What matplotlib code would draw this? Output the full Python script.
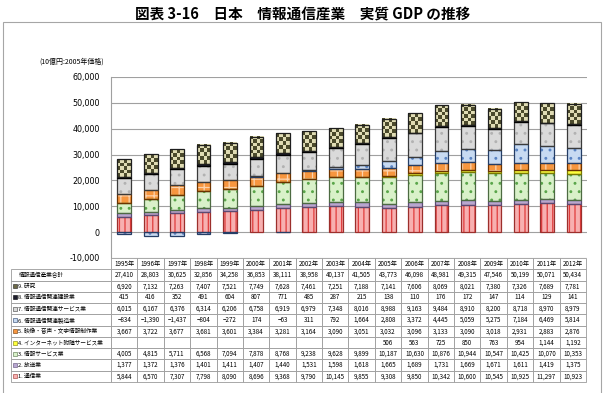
import matplotlib
matplotlib.use("Agg")
import matplotlib.pyplot as plt
from matplotlib.patches import Rectangle
import numpy as np

plt.rcParams['font.family'] = ['Noto Sans CJK JP', 'DejaVu Sans']
plt.rcParams['hatch.linewidth'] = 0.9

years = [str(y) for y in range(1995, 2013)]
year_labels = [y + "年" for y in years]

total = [27410, 28803, 30625, 32856, 34258, 36853, 38111, 38958, 40137,
         41505, 43773, 46098, 48981, 49315, 47546, 50199, 50071, 50434]

# series, bottom of the stack first
names = ["1. 通信業", "2. 放送業", "3. 情報サービス業", "4. インターネット附随サービス業",
         "5. 映像・音声・文字情報制作業", "6. 情報通信関連製造業",
         "7. 情報通信関連サービス業", "8. 情報通信関連建設業", "9. 研究"]
s1 = [5844, 6570, 7307, 7798, 8090, 8696, 9368, 9790, 10145, 9855, 9308, 9850,
      10342, 10600, 10545, 10925, 11297, 10923]
s2 = [1377, 1372, 1376, 1401, 1411, 1407, 1440, 1531, 1598, 1618, 1665, 1689,
      1731, 1669, 1671, 1611, 1419, 1375]
s3 = [4005, 4815, 5711, 6568, 7094, 7878, 8768, 9238, 9628, 9899, 10187, 10630,
      10876, 10944, 10547, 10425, 10070, 10353]
s4 = [None] * 10 + [506, 563, 725, 850, 763, 954, 1144, 1192]
s5 = [3667, 3722, 3677, 3681, 3601, 3384, 3281, 3164, 3090, 3051, 3032, 3096,
      3133, 3090, 3018, 2931, 2883, 2876]
s6 = [-834, -1390, -1437, -804, -272, 174, -63, 311, 792, 1664, 2808, 3372,
      4445, 5059, 5275, 7184, 6469, 5814]
s7 = [6015, 6167, 6376, 6314, 6206, 6758, 6919, 6979, 7348, 8016, 8988, 9163,
      9484, 8910, 8200, 8718, 8970, 8979]
s8 = [415, 416, 352, 491, 604, 807, 771, 485, 287, 215, 138, 110, 176, 172,
      147, 114, 129, 141]
s9 = [6920, 7132, 7263, 7407, 7521, 7749, 7628, 7461, 7251, 7188, 7141, 7606,
      8069, 8021, 7380, 7326, 7689, 7781]
series = [s1, s2, s3, s4, s5, s6, s7, s8, s9]

# face, hatch colour, hatch, edge
styles = [
    ("#f7b0b0", "#e03c3c", "|||", "#9c2f2c"),
    ("#b8a7d0", None, "", "#5b4a73"),
    ("#d9f1c9", "#5aa64a", "..", "#4d6b42"),
    ("#ffff3c", None, "", "#7a7a00"),
    ("#f7963f", "#fcd3ad", "++", "#6b3300"),
    ("#c7daf2", "#5a84c4", "..", "#243d66"),
    ("#dadada", "#b2b2b2", "..", "#3a3a3a"),
    ("#1c1c2c", None, "", "#000000"),
    (None, None, "", "#1e1e1e"),
]

fig = plt.figure(figsize=(6.06, 3.93), dpi=100)
fig.text(0.5, 0.962, "図表 3-16　日本　情報通信産業　実質 GDP の推移",
         ha="center", va="center", fontsize=10.5, fontweight="bold")
fig.patches.append(Rectangle((3 / 606, -0.01), 598 / 606, 1 - 22 / 393 + 0.01,
                             transform=fig.transFigure, fill=False,
                             edgecolor="#a6a6a6", linewidth=0.8))
fig.text(39 / 606, 1 - 62 / 393, "(10億円:2005年価格)", fontsize=5,
         va="center", ha="left")

ax = fig.add_axes([111 / 606, 1 - 258 / 393, 476 / 606, 181 / 393])
x = np.arange(len(years))
w = 0.52
pos = np.zeros(len(years))
neg = np.zeros(len(years))
for vals, (face, hcol, hatch, edge) in zip(series, styles):
    v = np.array([0 if a is None else a for a in vals], dtype=float)
    bottom = np.where(v >= 0, pos, neg)
    if face is not None:
        ax.bar(x, v, w, bottom=bottom, color=face, edgecolor=hcol or face,
               hatch=hatch, linewidth=0, zorder=3)
    else:
        # checkerboard pattern
        for xi, b, h in zip(x, bottom, v):
            rows = max(2, int(round(abs(h) / 1400)))
            chk = (np.add.outer(np.arange(rows), np.arange(4)) % 2)
            ax.imshow(chk, cmap=matplotlib.colors.ListedColormap(["#4b4a2c", "#e0dcb4"]),
                      extent=[xi - w / 2, xi + w / 2, b, b + h], aspect="auto",
                      interpolation="nearest", zorder=3)
    ax.bar(x, v, w, bottom=bottom, fill=False, edgecolor=edge, linewidth=0.9,
           zorder=4)
    pos = np.where(v >= 0, pos + v, pos)
    neg = np.where(v < 0, neg + v, neg)

ax.set_xlim(-0.5, len(years) - 0.5)
ax.set_ylim(-10000, 60000)
ax.set_yticks(range(-10000, 60001, 10000))
ax.set_yticklabels([f"{t:,}" for t in range(-10000, 60001, 10000)],
                   fontsize=5.8, family="DejaVu Sans")
ax.tick_params(axis="y", length=0, pad=8)
ax.set_xticks([])
ax.grid(axis="y", color="#a0a0a0", linewidth=0.8, zorder=0)
for s in ["top", "right", "bottom"]:
    ax.spines[s].set_visible(False)
ax.spines["left"].set_color("#a0a0a0")

# data table
def fmt(a):
    if a is None:
        return ""
    return f"{a:,}".replace("-", "−")

rows_lbl = ["情報通信産業合計"] + names[::-1]
rows_val = [total] + series[::-1]
cell_text = [[""] + year_labels]
for lbl, vals in zip(rows_lbl, rows_val):
    cell_text.append([lbl] + [fmt(a) for a in vals])

tax = fig.add_axes([11 / 606, 1 - 382 / 393, 575 / 606, 124 / 393])
tax.axis("off")
tax.set_xlim(0, 575)
tax.set_ylim(0, 124)
col_w = [100] + [475 / 18] * 18
tbl = tax.table(cellText=cell_text, colWidths=[c / 575 for c in col_w],
                bbox=[0, 0, 1, 1], cellLoc="center")
tbl.auto_set_font_size(False)
tbl.set_fontsize(4.5)
for (r, c), cell in tbl.get_celld().items():
    cell.set_edgecolor("#9a9a9a")
    cell.set_linewidth(0.6)
    if c == 0:
        cell.PAD = 0.075
        cell.get_text().set_ha("left")
        cell.get_text().set_fontsize(4.1)
    if r == 0 and c == 0:
        cell.visible_edges = ""

# legend keys in the label column
row_h = 124 / 11
for i, (face, hcol, hatch, edge) in enumerate(styles[::-1]):
    yc = 124 - row_h * (i + 2.5)
    if face is None:
        face = "#6e6b48"
    tax.add_patch(Rectangle((1.5, yc - 2), 4, 4, facecolor=face, edgecolor=edge,
                            linewidth=0.4, clip_on=False))

fig.savefig("out.png", dpi=100)
